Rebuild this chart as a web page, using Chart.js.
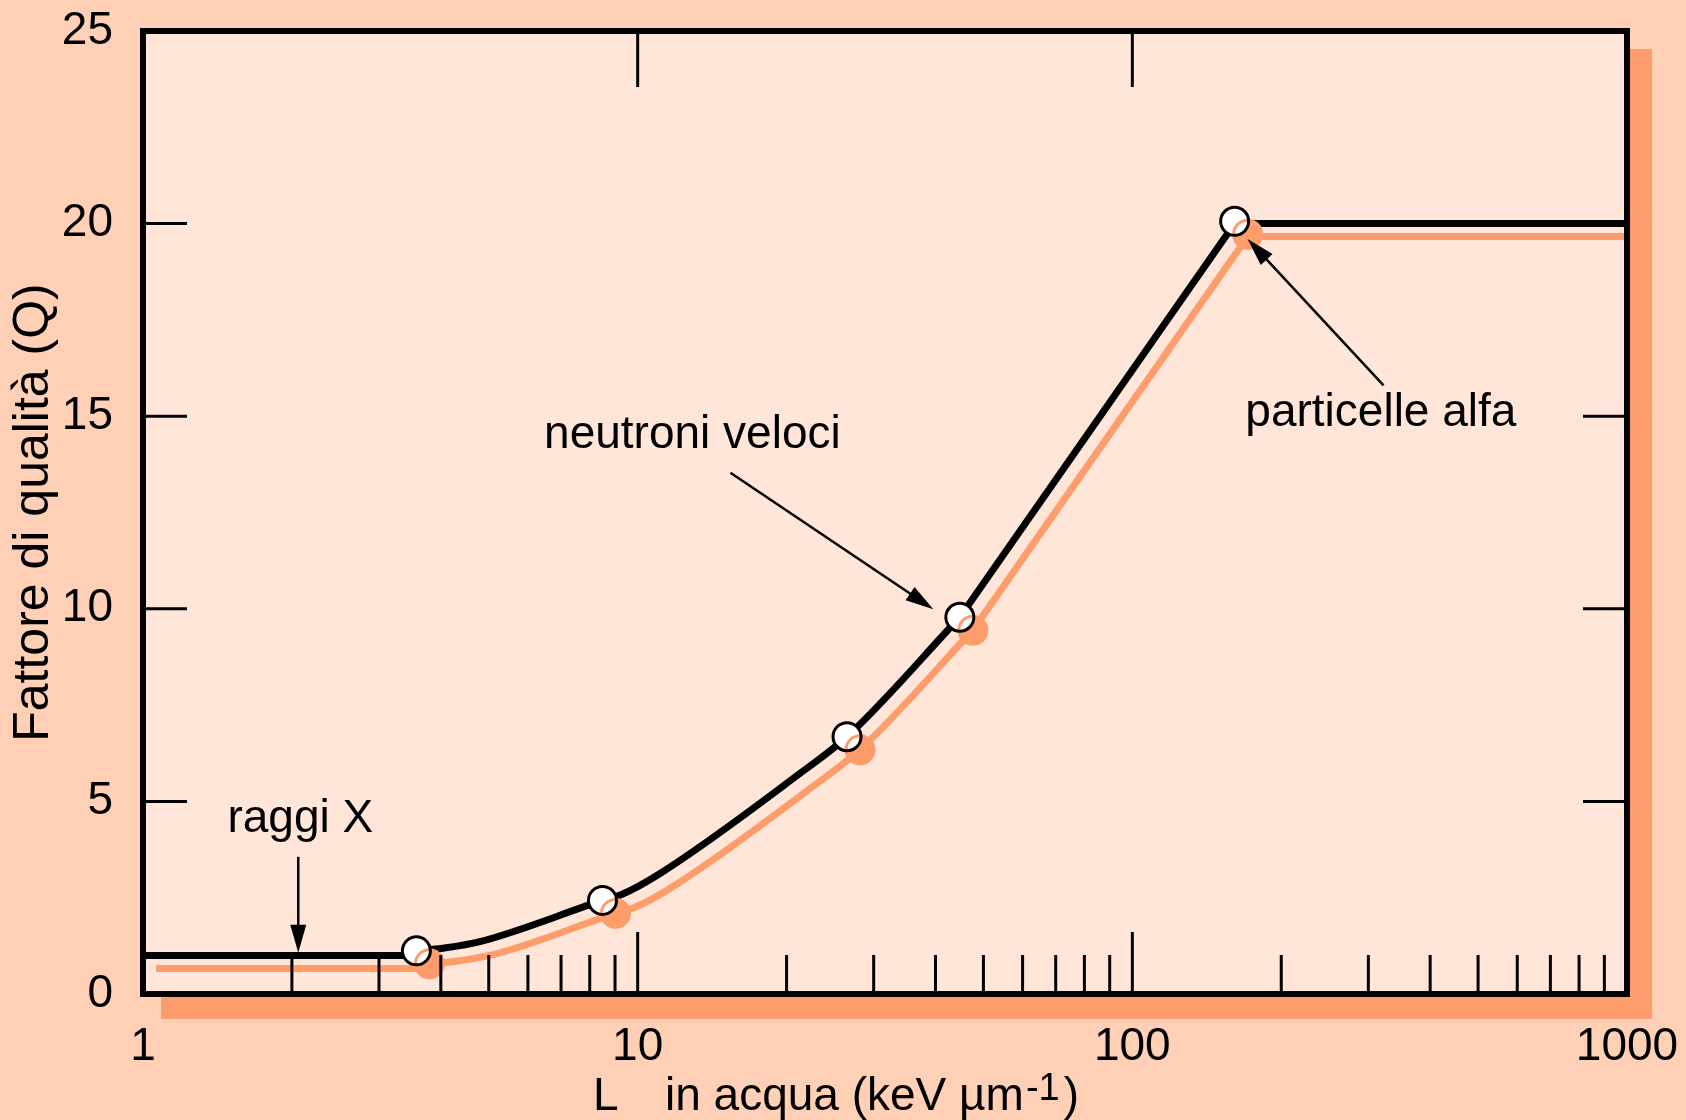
<!DOCTYPE html>
<html>
<head>
<meta charset="utf-8">
<title>Fattore di qualità</title>
<script src="https://cdn.jsdelivr.net/npm/chart.js@4.4.1/dist/chart.umd.min.js"></script>
<style>
  html, body { margin: 0; padding: 0; background: #ffd0b5; }
</style>
</head>
<body>
<canvas id="q-chart" width="1686" height="1120"></canvas>
<script>
// values: LET in water (keV/um) vs quality factor Q
const markerLet = [3.57, 8.49, 26.5, 44.8, 161];
const markerQ = [1.12, 2.43, 6.68, 9.78, 20.06];

const lowLet = [1, 3.57];
const lowQ = [1.0, 1.0];

const curveLet = [3.57, 4.04, 4.8, 8.49, 9.3, 11.1, 21.3, 26.5, 44.8];
const curveQ = [1.12, 1.19, 1.36, 2.43, 2.59, 3.13, 5.73, 6.68, 9.78];

const highLet = [44.8, 161, 1000];
const highQ = [9.78, 20.0, 20.0];

const majorTicks = [1, 10, 100, 1000];
const minorTicks = [2, 3, 4, 5, 6, 7, 8, 9, 20, 30, 40, 50, 60, 70, 80, 90,
  200, 300, 400, 500, 600, 700, 800, 900];
const sideTicks = [5, 10, 15, 20];

const noteText = ['raggi X', 'neutroni veloci', 'particelle alfa'];
const noteLet = [2.08, 12.9, 318];
const noteQ = [4.2, 14.17, 14.75];
const arrowFromLet = [2.06, 15.4, 322];
const arrowFromQ = [3.56, 13.53, 15.8];
const arrowToLet = [2.06, 39.6, 171];
const arrowToQ = [1.07, 9.99, 19.6];

const yTitle = 'Fattore di qualità (Q)';

const ORANGE = '#ff9c6c';
const OUTER = '#ffd0b5';
const INNER = '#ffe6d8';
const FONT = '"Liberation Sans", Arial, sans-serif';

const toPoints = (xs, ys) => xs.map((x, i) => ({ x: x, y: ys[i] }));

function arrow(ctx, x0, y0, x1, y1) {
  const ang = Math.atan2(y1 - y0, x1 - x0);
  const c = Math.cos(ang), s = Math.sin(ang);
  const len = 28, half = 8;
  ctx.beginPath();
  ctx.moveTo(x0, y0);
  ctx.lineTo(x1 - c * len * 0.7, y1 - s * len * 0.7);
  ctx.stroke();
  ctx.beginPath();
  ctx.moveTo(x1, y1);
  ctx.lineTo(x1 - c * len - s * half, y1 - s * len + c * half);
  ctx.lineTo(x1 - c * len + s * half, y1 - s * len - c * half);
  ctx.closePath();
  ctx.fill();
}

const framePlugin = {
  id: 'frame',
  beforeDraw(chart) {
    const { ctx, chartArea: a, width, height } = chart;
    ctx.save();
    ctx.fillStyle = OUTER;
    ctx.fillRect(0, 0, width, height);
    ctx.fillStyle = ORANGE;
    ctx.fillRect(a.left + 18, a.top + 18, a.width + 7, a.height + 7);
    ctx.fillStyle = INNER;
    ctx.fillRect(a.left, a.top, a.width, a.height);
    ctx.restore();
  },
  afterDatasetsDraw(chart) {
    const { ctx, chartArea: a, scales: { x, y } } = chart;
    ctx.save();
    ctx.strokeStyle = '#000';
    ctx.fillStyle = '#000';
    ctx.lineCap = 'butt';

    // inner tick marks
    ctx.lineWidth = 3;
    ctx.beginPath();
    sideTicks.forEach(v => {
      const py = y.getPixelForValue(v);
      ctx.moveTo(a.left, py); ctx.lineTo(a.left + 44, py);
      ctx.moveTo(a.right, py); ctx.lineTo(a.right - 44, py);
    });
    majorTicks.slice(1, -1).forEach(v => {
      const px = x.getPixelForValue(v);
      ctx.moveTo(px, a.bottom); ctx.lineTo(px, a.bottom - 62);
      ctx.moveTo(px, a.top); ctx.lineTo(px, a.top + 56);
    });
    minorTicks.forEach(v => {
      const px = x.getPixelForValue(v);
      ctx.moveTo(px, a.bottom); ctx.lineTo(px, a.bottom - 39);
    });
    ctx.stroke();

    // frame
    ctx.lineWidth = 6;
    ctx.strokeRect(a.left, a.top, a.width, a.height);

    // annotations
    ctx.font = '46px ' + FONT;
    ctx.textAlign = 'center';
    ctx.textBaseline = 'alphabetic';
    noteText.forEach((t, i) => {
      ctx.fillText(t, x.getPixelForValue(noteLet[i]), y.getPixelForValue(noteQ[i]));
    });
    ctx.lineWidth = 2.5;
    noteText.forEach((t, i) => {
      arrow(ctx,
        x.getPixelForValue(arrowFromLet[i]), y.getPixelForValue(arrowFromQ[i]),
        x.getPixelForValue(arrowToLet[i]), y.getPixelForValue(arrowToQ[i]));
    });
    ctx.restore();
  },
  afterDraw(chart) {
    const { ctx, chartArea: a } = chart;
    ctx.save();
    ctx.fillStyle = '#000';
    ctx.textAlign = 'left';
    ctx.textBaseline = 'alphabetic';
    const base = 1110;
    let px = a.left + 450;
    ctx.font = '46px ' + FONT;
    ctx.fillText('L', px, base);
    px = a.left + 522;
    const main = 'in acqua (keV µm';
    ctx.fillText(main, px, base);
    px += ctx.measureText(main).width + 2;
    ctx.font = '38px ' + FONT;
    ctx.fillText('-1', px, base - 10);
    px += ctx.measureText('-1').width + 4;
    ctx.font = '46px ' + FONT;
    ctx.fillText(')', px, base);
    ctx.restore();
  }
};

// orange drop shadow under every line and marker
const shadowPlugin = {
  id: 'dropShadow',
  beforeDatasetDraw(chart) {
    const ctx = chart.ctx;
    ctx.save();
    ctx.shadowColor = ORANGE;
    ctx.shadowBlur = 0;
    ctx.shadowOffsetX = 13;
    ctx.shadowOffsetY = 13;
  },
  afterDatasetDraw(chart) {
    chart.ctx.restore();
  }
};

const lineStyle = {
  showLine: true,
  borderColor: '#000',
  borderWidth: 7,
  pointRadius: 0,
  order: 1
};

new Chart(document.getElementById('q-chart'), {
  type: 'scatter',
  data: {
    datasets: [
      {
        label: 'punti',
        data: toPoints(markerLet, markerQ),
        showLine: false,
        pointRadius: 14,
        pointBorderWidth: 3,
        pointBackgroundColor: '#fff',
        pointBorderColor: '#000',
        order: 0
      },
      Object.assign({ label: 'basso', data: toPoints(lowLet, lowQ), tension: 0 }, lineStyle),
      Object.assign({
        label: 'curva',
        data: toPoints(curveLet, curveQ),
        tension: 0.4,
        cubicInterpolationMode: 'monotone'
      }, lineStyle),
      Object.assign({ label: 'alto', data: toPoints(highLet, highQ), tension: 0 }, lineStyle)
    ]
  },
  options: {
    responsive: false,
    animation: false,
    devicePixelRatio: 1,
    events: [],
    layout: { padding: { top: 31, right: 59, left: 0, bottom: 0 } },
    plugins: {
      legend: { display: false },
      tooltip: { enabled: false }
    },
    scales: {
      x: {
        type: 'logarithmic',
        min: 1,
        max: 1000,
        grid: { display: false },
        border: { display: false },
        afterBuildTicks: s => { s.ticks = majorTicks.map(v => ({ value: v })); },
        afterFit: s => {
          s.height = 126;
          s.paddingLeft = 0;
          s.paddingRight = 0;
        },
        ticks: {
          autoSkip: false,
          maxRotation: 0,
          padding: 18,
          color: '#000',
          font: { family: FONT, size: 46 },
          callback: v => String(v)
        }
      },
      y: {
        min: 0,
        max: 25,
        grid: { display: false },
        border: { display: false },
        afterFit: s => {
          s.width = 143;
          s.paddingTop = 0;
          s.paddingBottom = 0;
        },
        ticks: {
          stepSize: 5,
          padding: 22,
          color: '#000',
          font: { family: FONT, size: 46 }
        },
        title: {
          display: true,
          text: yTitle,
          color: '#000',
          font: { family: FONT, size: 50 },
          padding: { top: 4, bottom: 0 }
        }
      }
    }
  },
  plugins: [framePlugin, shadowPlugin]
});
</script>
</body>
</html>
